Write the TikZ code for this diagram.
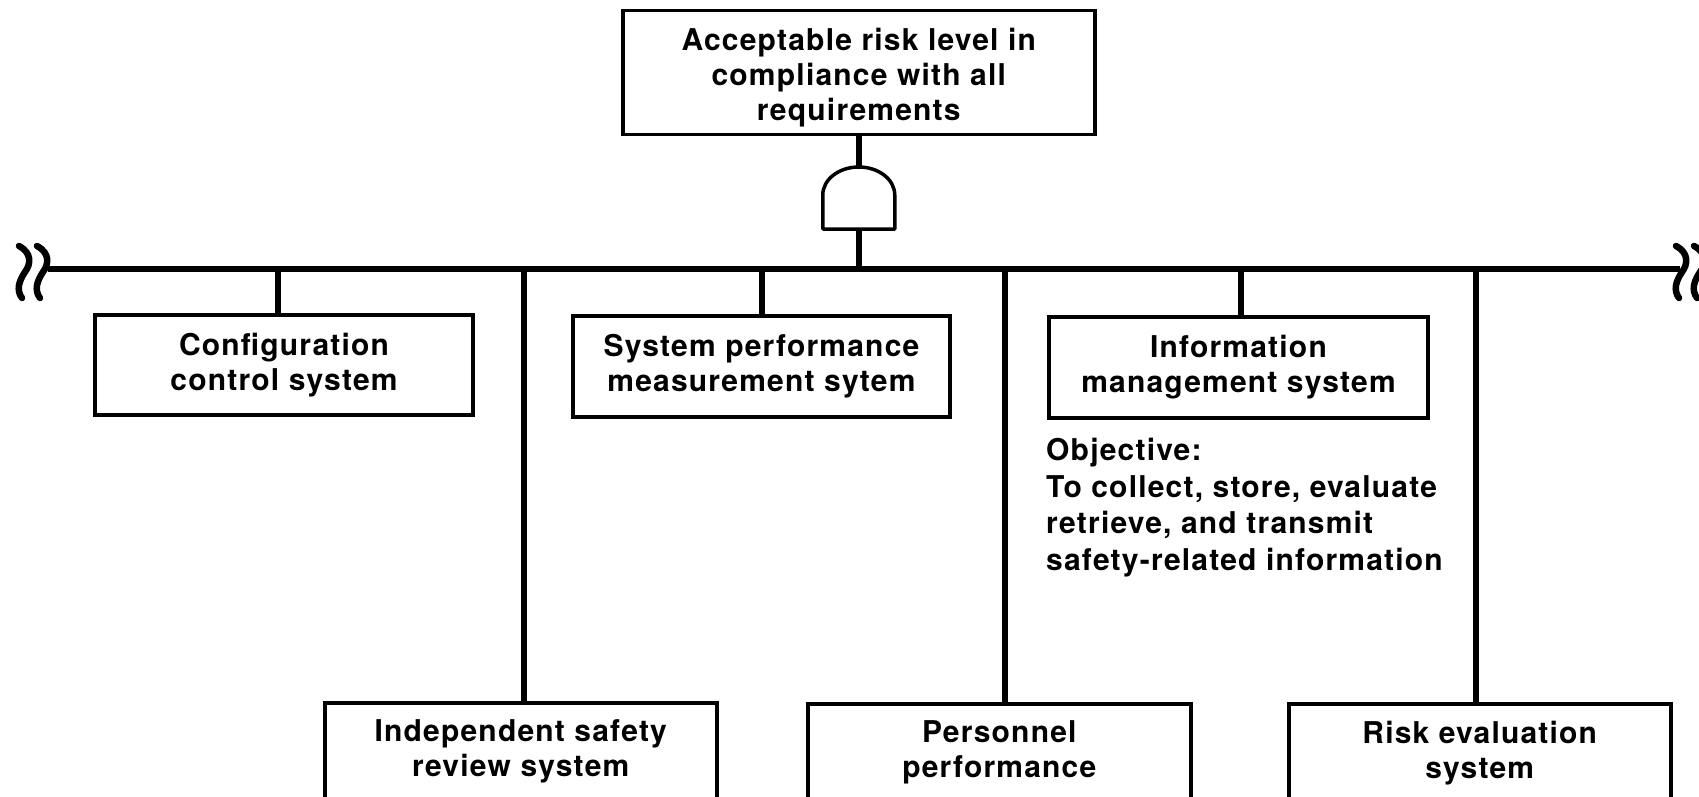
\documentclass[tikz,border=0pt]{standalone}
\usepackage{fontspec}
\usetikzlibrary{calc}
\setmainfont{TeX Gyre Heros}[LetterSpace=4]
\newcommand\labelfont{\fontsize{30}{35}\selectfont\bfseries}
\newcommand\notefont{\fontsize{30}{36.5}\selectfont\bfseries}
\newcommand\toptext[3]{\parbox[t][#1][t]{#2}{\centering #3}}
\begin{document}
\begin{tikzpicture}[x=1pt,y=-1pt,
  box/.style={draw, line width=3.5pt, align=center, inner sep=0pt, font=\labelfont},
  lowbox/.style={draw, line width=3.5pt, anchor=north west, inner xsep=0pt, inner ysep=17pt, font=\labelfont},
  wire/.style={line width=6.5pt},
  gateline/.style={line width=3.5pt, line join=round},
  breakmark/.style={line width=6.5pt, line cap=round}]
\useasboundingbox (0,0) rectangle (1699,797);
\clip (0,0) rectangle (1699,797);

% top event
\node[lowbox] (top) at (621,9)
  {\toptext{90pt}{472pt}{Acceptable risk level in\\compliance with all\\requirements}};

% AND gate, hung below the top event
\coordinate (gt) at (top.south |- 0,167);
\coordinate (gb) at (top.south |- 0,229);
\draw[gateline] ($(gb)+(-36,0)$) -- ($(gb)+(-36,-34)$)
  .. controls ($(gb)+(-36,-49.5)$) and ($(gt)+(-19.9,0)$) .. (gt)
  .. controls ($(gt)+(19.9,0)$) and ($(gb)+(36,-49.5)$) .. ($(gb)+(36,-34)$)
  -- ($(gb)+(36,0)$) -- cycle;

% bus with break marks at both ends
\coordinate (busL) at (48,269);
\coordinate (busR) at (1680,269);
\draw[wire] (busL) -- (busR);
\foreach \dx in {0,18}{
  \draw[breakmark] (19+\dx,246) .. controls (32+\dx,253) and (31+\dx,264) .. (25+\dx,272)
    .. controls (19+\dx,281) and (16+\dx,290) .. (22+\dx,298);
}
\foreach \dx in {0,18}{
  \draw[breakmark] (1676+\dx,246) .. controls (1689+\dx,253) and (1688+\dx,264) .. (1682+\dx,272)
    .. controls (1676+\dx,281) and (1673+\dx,290) .. (1679+\dx,298);
}

% first row of sub-systems
\node[box, minimum width=378, minimum height=100] (cfg) at (284,365)
  {Configuration\\control system};
\node[box, minimum width=377, minimum height=101] (spm) at (761.5,366.5)
  {System performance\\measurement sytem};
\node[box, minimum width=379, minimum height=101] (ims) at (1238.5,367.5)
  {Information\\management system};

\node[anchor=north west, align=left, inner sep=0pt, font=\notefont] (obj) at (1046,438)
  {Objective:\\To collect, store, evaluate\\retrieve, and transmit\\safety-related information};

% second row of sub-systems (running off the lower edge)
\node[lowbox] (isr) at (323,701) {\toptext{140pt}{392pt}{Independent safety\\review system}};
\node[lowbox] (pp) at (806,702) {\toptext{140pt}{383pt}{Personnel\\performance}};
\node[lowbox] (res) at (1287,702) {\toptext{140pt}{382pt}{Risk evaluation\\system}};

% connectors
\draw[wire] (top.south) -- (gt);
\draw[wire] (gb) -- (gb |- busL);
\coordinate (j1) at (278,269);
\coordinate (j2) at (524,269);
\coordinate (j3) at (762,269);
\coordinate (j4) at (1005,269);
\coordinate (j5) at (1241,269);
\coordinate (j6) at (1476,269);
\draw[wire] (j1) -- (j1 |- cfg.north);
\draw[wire] (j2) -- (j2 |- isr.north);
\draw[wire] (j3) -- (j3 |- spm.north);
\draw[wire] (j4) -- (j4 |- pp.north);
\draw[wire] (j5) -- (j5 |- ims.north);
\draw[wire] (j6) -- (j6 |- res.north);
\end{tikzpicture}
\end{document}
